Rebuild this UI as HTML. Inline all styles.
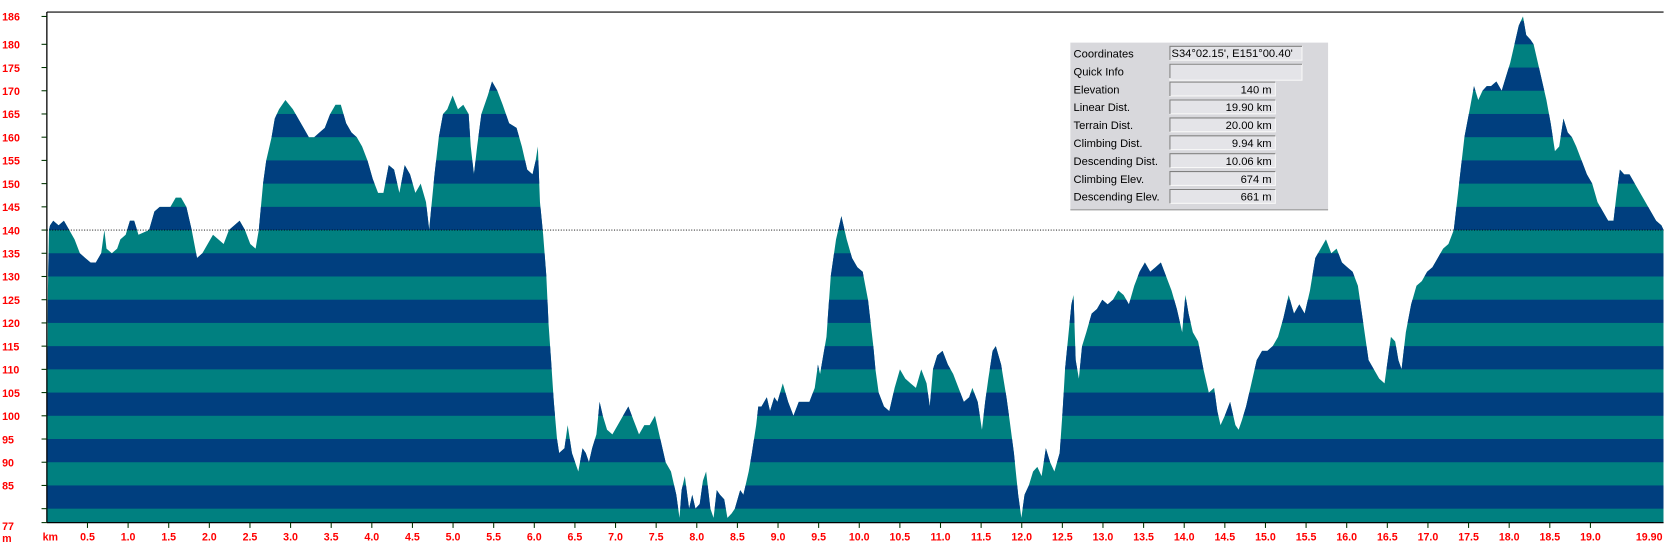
<!DOCTYPE html>
<html><head><meta charset="utf-8"><style>
html,body{margin:0;padding:0;background:#fff;}
svg{display:block;}
text{font-family:"Liberation Sans",Arial,sans-serif;}
.yl{fill:#ff0000;font-weight:bold;font-size:10px;}
.il{fill:#000;font-size:10.5px;}
</style></head><body>
<svg id="s" width="1669" height="545" viewBox="0 0 1567.1 511.7" xmlns="http://www.w3.org/2000/svg"></svg>
<script>
var d=[45,127,46,140,47,141,50,142,55,141,60,142,65,140,70,138,75,135,80,134,85,133,90,133,95,135,98,140,100,136,105,135,110,136,113,138,118,139,122,142,126,142,130,139,140,140,145,144,150,145,160,145,165,147,170,147,175,145,180,140,185,134,190,135,195,137,200,139,205,138,210,137,215,140,220,141,225,142,230,140,235,137,240,136,243,140,247,150,250,155,255,160,258,164,262,166,268,168,275,166,280,164,285,162,290,160,295,160,300,161,305,162,310,165,315,167,320,167,325,163,330,161,335,160,340,158,345,155,350,151,355,148,360,148,365,154,370,153,375,148,380,154,385,152,390,148,395,150,400,146,403,140,405,145,408,152,412,160,416,165,420,166,425,169,430,166,435,167,440,165,442,158,445,152,448,158,452,165,458,169,462,172,467,170,472,167,478,163,485,162,490,158,495,153,500,152,503,155,505,158,507,146,510,139,513,130,515,120,518,110,520,103,523,95,525,92,530,93,533,98,537,92,540,90,543,88,547,93,550,92,553,90,556,93,560,96,563,103,566,100,570,97,575,96,580,98,585,100,590,102,595,99,600,96,605,98,610,98,615,100,620,95,625,90,630,88,635,83,638,78,640,84,643,87,647,80,650,83,653,80,657,81,660,86,663,88,667,80,670,78,673,84,676,83,680,82,683,78,687,79,690,80,695,84,698,83,700,85,703,88,706,92,710,98,712,102,715,102,720,104,723,101,727,104,730,103,735,107,740,103,745,100,750,103,755,103,760,103,765,106,768,111,770,109,773,113,776,117,780,130,785,138,790,143,795,138,800,134,805,132,810,131,815,125,820,115,822,110,825,105,830,102,835,101,840,106,845,110,850,108,855,107,860,106,865,110,870,107,873,102,876,110,880,113,885,114,890,111,895,109,900,106,905,103,910,104,913,106,918,103,922,97,925,103,928,108,932,114,935,115,940,111,945,104,948,99,952,92,956,83,959,78,962,83,966,85,970,88,974,89,978,87,982,93,986,90,990,88,995,92,998,102,1000,110,1003,117,1006,124,1008,126,1010,112,1013,108,1016,115,1020,118,1025,122,1030,123,1035,125,1040,124,1045,125,1050,127,1055,126,1060,124,1065,128,1070,131,1075,133,1080,131,1085,132,1090,133,1095,130,1100,127,1105,123,1110,118,1113,126,1116,122,1120,118,1125,116,1130,110,1135,105,1140,106,1143,101,1146,98,1150,100,1155,103,1160,98,1163,97,1166,99,1170,102,1175,107,1180,112,1185,114,1190,114,1195,115,1200,117,1205,121,1210,126,1215,122,1220,124,1225,122,1230,127,1235,134,1240,136,1245,138,1250,135,1255,136,1260,133,1265,132,1270,131,1275,128,1280,120,1285,112,1290,110,1295,108,1300,107,1303,112,1306,117,1310,116,1313,112,1316,110,1320,118,1325,124,1330,128,1335,129,1340,131,1345,132,1350,134,1355,136,1360,137,1365,140,1370,150,1375,160,1380,166,1384,171,1388,168,1392,170,1396,171,1400,171,1405,172,1410,170,1414,173,1418,176,1422,180,1426,184,1430,186,1433,182,1437,181,1440,180,1444,176,1448,172,1452,168,1456,163,1460,157,1464,158,1468,164,1472,161,1476,160,1480,158,1485,155,1490,152,1495,150,1500,146,1505,144,1510,142,1515,142,1518,148,1521,153,1525,152,1530,152,1535,150,1540,148,1545,146,1550,144,1555,142,1560,141,1562,140];
function Y(v){return 216+(140-v)*4.36;}
var X0=44,XR=1562,YB=Y(77),YT=11.3;
var h='';
var pts=X0+','+YB;
for(var i=0;i<d.length;i+=2)pts+=' '+d[i]+','+Y(d[i+1]).toFixed(1);
pts+=' '+XR+','+YB;
h+='<defs><clipPath id="c"><polygon points="'+pts+'"/></clipPath></defs>';
h+='<g clip-path="url(#c)"><rect x="'+X0+'" y="0" width="'+(XR-X0)+'" height="'+YB+'" fill="#008080"/>';
for(var v=80;v<190;v+=10)h+='<rect x="'+X0+'" y="'+Y(v+5)+'" width="'+(XR-X0)+'" height="'+(5*4.36)+'" fill="#003f7f"/>';
h+='</g>';
h+='<line x1="'+X0+'" y1="216" x2="'+XR+'" y2="216" stroke="#000" stroke-width="0.9" stroke-dasharray="1,1.5"/>';
h+='<line x1="'+X0+'" y1="'+YT+'" x2="'+X0+'" y2="'+YB+'" stroke="#000" stroke-width="1.2"/>';
h+='<line x1="'+X0+'" y1="'+YT+'" x2="'+XR+'" y2="'+YT+'" stroke="#000" stroke-width="1"/>';
h+='<line x1="'+X0+'" y1="'+YB+'" x2="'+XR+'" y2="'+YB+'" stroke="#000" stroke-width="1.2"/>';
var yl=[186,180,175,170,165,160,155,150,145,140,135,130,125,120,115,110,105,100,95,90,85,80,77];
yl.forEach(function(v){var y=Y(v);h+='<line x1="'+(X0-5)+'" y1="'+y+'" x2="'+X0+'" y2="'+y+'" stroke="#003300"/>';
if(v!=80)h+='<text class="yl" x="2" y="'+(v==77?y+7:y+4)+'">'+v+'</text>';});
h+='<text class="yl" x="2" y="'+(YB+18)+'">m</text><text class="yl" x="40" y="'+(YB+17)+'">km</text>';
var kx=76.28;
for(var k=0.5;k<19.01;k+=0.5){var x=X0+k*kx;h+='<line x1="'+x+'" y1="'+YB+'" x2="'+x+'" y2="'+(YB+5)+'" stroke="#003300"/>';
h+='<text class="yl" x="'+x+'" y="'+(YB+17)+'" text-anchor="middle">'+k.toFixed(1)+'</text>';}
h+='<text class="yl" x="'+(XR-1)+'" y="'+(YB+17)+'" text-anchor="end">19.90</text>';
h+='<rect x="1005" y="40" width="242" height="157" fill="#d8d8dc"/>';
h+='<line x1="1005" y1="197" x2="1247" y2="197" stroke="#999"/>';
var rows=[["Coordinates","S34°02.15', E151°00.40'"],["Quick Info",""],["Elevation","140 m"],["Linear Dist.","19.90 km"],["Terrain Dist.","20.00 km"],["Climbing Dist.","9.94 km"],["Descending Dist.","10.06 km"],["Climbing Elev.","674 m"],["Descending Elev.","661 m"]];
rows.forEach(function(r,i){var y=43+i*16.8;var w=(i<2)?124:99;
h+='<text class="il" x="1008" y="'+(y+11)+'">'+r[0]+'</text>';
h+='<rect x="1098.5" y="'+(y+0.5)+'" width="'+w+'" height="'+(i==1?15:13)+'" fill="#e4e4e8" stroke="#f8f8f8"/>';
h+='<path d="M1098.5 '+(y+13.5)+'V'+(y+0.5)+'H'+(1098.5+w)+'" fill="none" stroke="#808080"/>';
if(i==0)h+='<text class="il" x="1100" y="'+(y+10.5)+'">'+r[1]+'</text>';
else if(r[1])h+='<text class="il" x="'+(1098+w-3)+'" y="'+(y+11)+'" text-anchor="end">'+r[1]+'</text>';});
document.getElementById('s').innerHTML=h;
</script>
</body></html>
